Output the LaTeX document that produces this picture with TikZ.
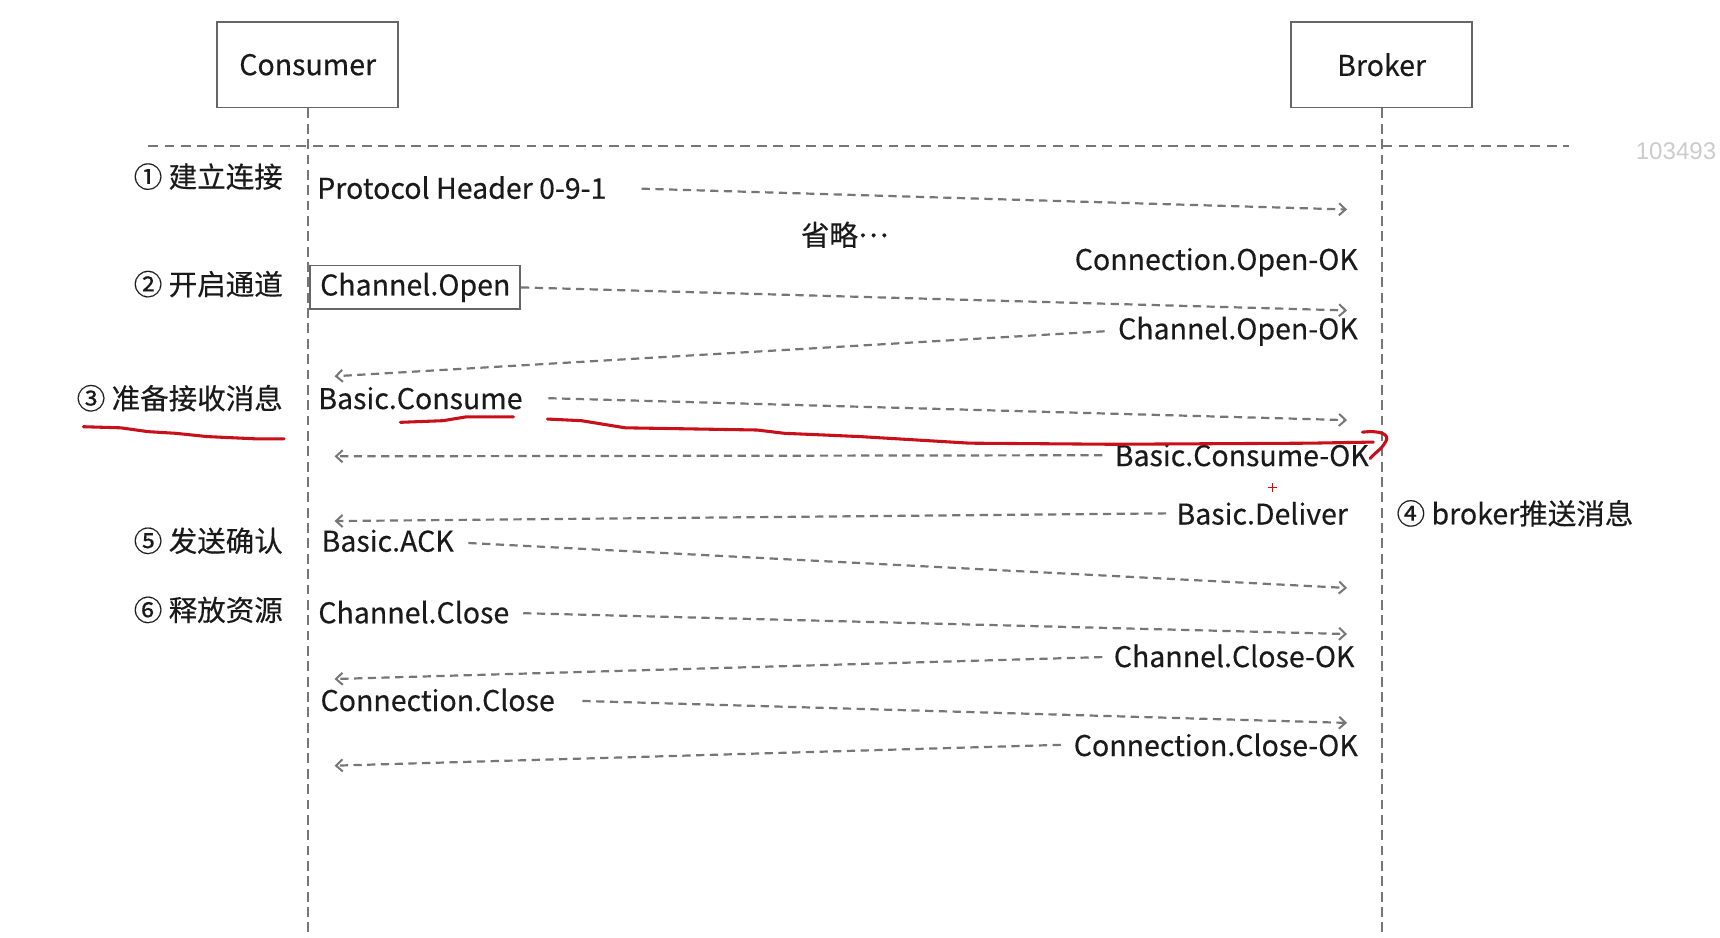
\documentclass[tikz,border=0pt]{standalone}
\usepackage{fontspec}
\setmainfont[FakeBold=0.35]{Noto Sans CJK SC}
\newfontfamily\wmfont{Liberation Sans}
\usetikzlibrary{arrows.meta}
\definecolor{txt}{HTML}{1A1A1A}
\definecolor{ln}{HTML}{767676}
\definecolor{bx}{HTML}{666666}
\definecolor{mark}{HTML}{C8101A}
\begin{document}
\begin{tikzpicture}[x=1pt,y=-1pt,
  lbl/.style={inner sep=0pt,text=txt,font=\fontsize{26}{29}\selectfont},
  actor/.style={draw=bx,line width=1.7pt,minimum width=165pt,minimum height=78pt,inner sep=0pt,text=txt,font=\fontsize{26}{29}\selectfont},
  life/.style={draw=ln,line width=1.8pt,dash pattern=on 9pt off 5pt},
  msg/.style={draw=ln,line width=2pt,dash pattern=on 7.5pt off 5pt,-{Straight Barb[length=6pt,width=11pt,line width=1.8pt]}},
  redpen/.style={draw=mark,line width=2.8pt,line cap=round,line join=round}]
\useasboundingbox[fill=white] (0,0) rectangle (1568,855);
\clip (0,0) rectangle (1568,855);
% actors
\node[actor] (cons) at (280.5,59) {Consumer};
\node[actor] (brok) at (1259.5,59) {Broker};
\coordinate (consend) at (280.5,855);
\coordinate (brokend) at (1259.5,855);
\draw[life] (cons.south) -- (consend);
\draw[life] (brok.south) -- (brokend);
% separator
\coordinate (sepL) at (135,133);
\coordinate (sepR) at (1430,133);
\draw[draw=ln,line width=2.5pt,dash pattern=on 9pt off 6pt] (sepL) -- (sepR);
\node[inner sep=0pt,anchor=west,text=black!20,font=\wmfont\fontsize{22}{24}\selectfont] (wm) at (1491,138) {103493};
% step labels
\node[lbl,anchor=east] (c1) at (258,161) {① 建立连接};
\node[lbl,anchor=east] (c2) at (258,259) {② 开启通道};
\node[lbl,anchor=east] (c3) at (258,363) {③ 准备接收消息};
\node[lbl,anchor=west] (c4) at (1273,468) {④ broker推送消息};
\node[lbl,anchor=east] (c5) at (258,493) {⑤ 发送确认};
\node[lbl,anchor=east] (c6) at (258,556) {⑥ 释放资源};
% message texts
\node[lbl,anchor=west] (ph) at (289,171) {Protocol Header 0-9-1};
\node[lbl] (omit) at (770,214) {省略\raisebox{0.3em}{…}};
\node[lbl,anchor=east] (coo) at (1238,239) {Connection.Open-OK};
\node[lbl,anchor=west,draw=bx,line width=1.7pt,inner xsep=9pt,minimum height=40pt] (co) at (282,262) {Channel.Open};
\node[lbl,anchor=east] (cook) at (1238,302) {Channel.Open-OK};
\node[lbl,anchor=west] (bc) at (290,363) {Basic.Consume};
\node[lbl,anchor=east] (bcok) at (1248,415) {Basic.Consume-OK};
\node[lbl,anchor=east] (bd) at (1229,468) {Basic.Deliver};
\node[lbl,anchor=west] (ack) at (293,493) {Basic.ACK};
\node[lbl,anchor=west] (cc) at (290,558) {Channel.Close};
\node[lbl,anchor=east] (ccok) at (1235,598) {Channel.Close-OK};
\node[lbl,anchor=west] (conc) at (292,638) {Connection.Close};
\node[lbl,anchor=east] (concok) at (1238,679) {Connection.Close-OK};
% arrow endpoints
\coordinate (s1) at (585,172);   \coordinate (e1) at (1228,191);
\coordinate (s2) at (co.east);   \coordinate (e2) at (1228,283);
\coordinate (s3) at (1007,302);  \coordinate (e3) at (305,343);
\coordinate (s4) at (500,363);   \coordinate (e4) at (1228,383);
\coordinate (s5) at (1005,415);  \coordinate (e5) at (305,416);
\coordinate (s6) at (1063,468);  \coordinate (e6) at (305,475);
\coordinate (s7) at (427,495);   \coordinate (e7) at (1228,536);
\coordinate (s8) at (477,559);   \coordinate (e8) at (1228,578);
\coordinate (s9) at (1005,599);  \coordinate (e9) at (305,619);
\coordinate (s10) at (531,639);  \coordinate (e10) at (1228,659);
\coordinate (s11) at (967,679);  \coordinate (e11) at (305,698);
\foreach \i in {1,...,11} {\draw[msg] (s\i) -- (e\i);}
% red pen marks
\draw[redpen] (76,389) -- (110,390) -- (135,393.5) -- (160,395) -- (189,398) -- (232,400) -- (259,400);
\draw[redpen] (365,385) -- (404,383.5) -- (425,380) -- (468,380);
\draw[redpen] (499,382) -- (530,383.5) -- (570,390) -- (690,392) -- (715,395) -- (750,396.5) -- (784,398) -- (884,404) -- (1014,405) -- (1194,404) -- (1252,403);
\draw[redpen] (1242,394) .. controls (1258,392) and (1268,396) .. (1263,403) .. controls (1260,409) and (1253,413) .. (1249,418);
\draw[draw=mark,line width=1.6pt] (1156,444.5) -- (1164,444.5) (1160,440.5) -- (1160,448.5);
\end{tikzpicture}
\end{document}
